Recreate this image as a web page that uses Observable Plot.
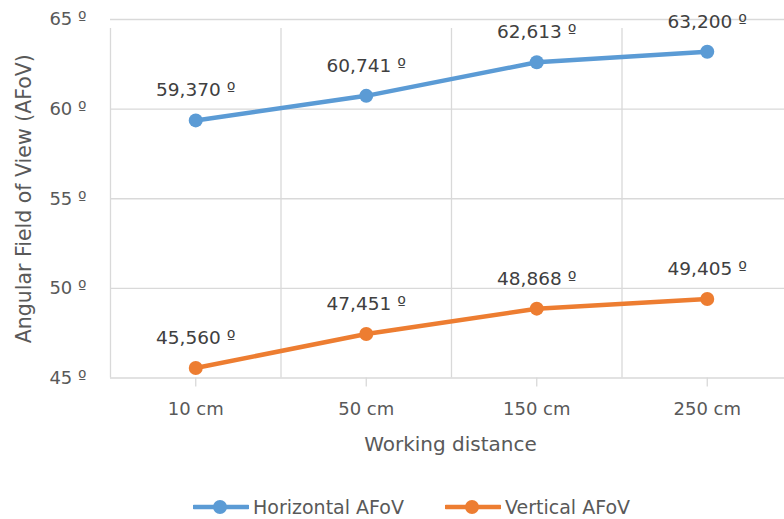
<!DOCTYPE html>
<html>
<head>
<meta charset="utf-8">
<script src="https://cdn.jsdelivr.net/npm/d3@7"></script>
<script src="https://cdn.jsdelivr.net/npm/@observablehq/plot@0.6"></script>
<style>
  html, body { margin: 0; padding: 0; background: #fff; }
  body { width: 784px; height: 519px; overflow: hidden; font-family: "DejaVu Sans", sans-serif; color: #595959; }
  #legend { position: relative; height: 49px; }
  .item { position: absolute; top: 26px; height: 22px; display: flex; align-items: center; font-size: 19px; line-height: 22px; }
  .item svg { margin-right: 4px; }
</style>
</head>
<body>
<div id="chart"></div>
<div id="legend"></div>
<script>
// Working distances (categories) and angular field of view per series
const distances = ["10 cm", "50 cm", "150 cm", "250 cm"];
const horizontalAFoV = [59.370, 60.741, 62.613, 63.200];
const verticalAFoV = [45.560, 47.451, 48.868, 49.405];
const yTicks = [45, 50, 55, 60, 65];
const seriesNames = ["Horizontal AFoV", "Vertical AFoV"];
const seriesColors = ["#5B9BD5", "#ED7D31"];

const rows = [
  ...horizontalAFoV.map((v, i) => ({series: seriesNames[0], i, v})),
  ...verticalAFoV.map((v, i) => ({series: seriesNames[1], i, v}))
];
const idx = d3.range(distances.length);
// category boundaries sit halfway between category indices
const boundaries = d3.range(distances.length + 1).map(k => k - 0.5);
const fmt = v => v.toFixed(3).replace(".", ",") + " º";

const W = 784, H = 470;
const chart = Plot.plot({
  width: W,
  height: H,
  marginLeft: 110,
  marginRight: 0,
  marginTop: 19,
  marginBottom: 92.5,
  style: {fontFamily: "'DejaVu Sans', sans-serif", color: "#595959", background: "#fff"},
  x: {type: "linear", domain: [-0.5, distances.length - 0.5], range: [110, 792]},
  y: {type: "linear", domain: [45, 65]},
  color: {domain: seriesNames, range: seriesColors},
  marks: [
    Plot.ruleY(yTicks, {stroke: "#D9D9D9", strokeWidth: 1.3}),
    Plot.ruleX(boundaries, {y1: 45, y2: 65, stroke: "#D9D9D9", strokeWidth: 1.3, insetBottom: -9}),
    Plot.ruleX(idx, {y1: 45, y2: 45, stroke: "#D9D9D9", strokeWidth: 1.3, insetBottom: -9}),
    Plot.axisY({ticks: yTicks, tickSize: 0, tickPadding: 24, tickFormat: d => d + " º", fontSize: 18, fill: "#595959", label: null}),
    Plot.axisX({ticks: idx, tickSize: 0, tickPadding: 24, tickFormat: i => distances[i], fontSize: 18, fill: "#595959", label: null}),
    Plot.line(rows, {x: "i", y: "v", z: "series", stroke: "series", strokeWidth: 4.5, curve: "linear"}),
    Plot.dot(rows, {x: "i", y: "v", fill: "series", r: 7, stroke: null}),
    Plot.text(rows, {x: "i", y: "v", text: d => fmt(d.v), dy: -30, fontSize: 18.5, fill: "#404040"}),
    Plot.text(["Working distance"], {frameAnchor: "bottom", dx: 3, dy: 73, fontSize: 20, fill: "#595959"}),
    Plot.text(["Angular Field of View (AFoV)"], {frameAnchor: "left", textAnchor: "middle", rotate: -90, dx: -86, fontSize: 20.5, fill: "#595959"})
  ]
});
document.getElementById("chart").append(chart);

// legend below the plot
const legend = document.getElementById("legend");
const lefts = [193, 445];
seriesNames.forEach((name, k) => {
  const item = document.createElement("div");
  item.className = "item";
  item.style.left = lefts[k] + "px";
  item.innerHTML = `<svg width="56" height="16"><line x1="1" x2="55" y1="8" y2="8" stroke="${seriesColors[k]}" stroke-width="4.5" stroke-linecap="round"/><circle cx="27" cy="8" r="7" fill="${seriesColors[k]}"/></svg><span>${name}</span>`;
  legend.append(item);
});
</script>
</body>
</html>
